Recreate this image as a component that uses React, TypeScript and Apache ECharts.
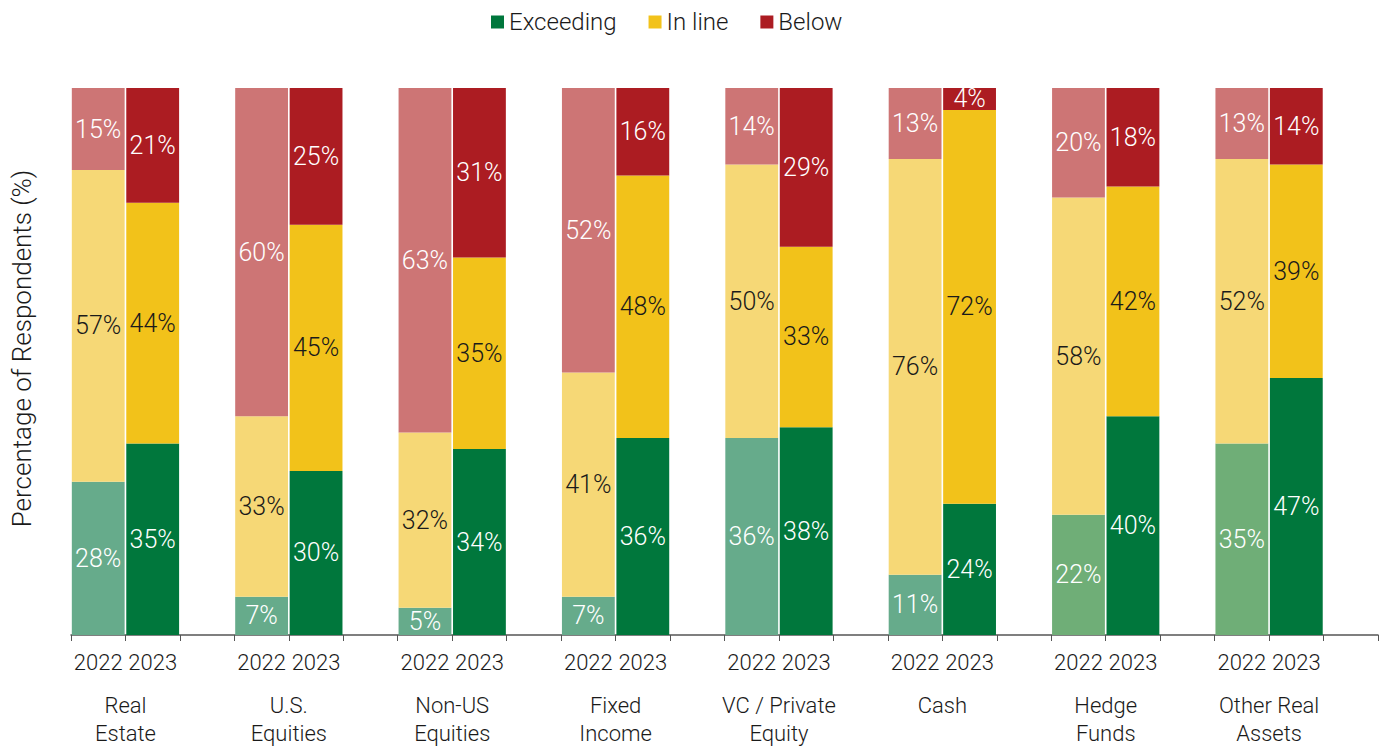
import React, { useEffect, useRef } from "react";
import * as echarts from "echarts";

const categories = [
  "Real\nEstate",
  "U.S.\nEquities",
  "Non-US\nEquities",
  "Fixed\nIncome",
  "VC / Private\nEquity",
  "Cash",
  "Hedge\nFunds",
  "Other Real\nAssets",
];
const years = ["2022", "2023"];

const exceeding2022 = [28, 7, 5, 7, 36, 11, 22, 35];
const inline2022 = [57, 33, 32, 41, 50, 76, 58, 52];
const below2022 = [15, 60, 63, 52, 14, 13, 20, 13];

const exceeding2023 = [35, 30, 34, 36, 38, 24, 40, 47];
const inline2023 = [44, 45, 35, 48, 33, 72, 42, 39];
const below2023 = [21, 25, 31, 16, 29, 4, 18, 14];

// light green shade per category for 2022 (styling only)
const light2022Green = [
  "#66ab8b", "#66ab8b", "#66ab8b", "#66ab8b", "#66ab8b", "#66ab8b", "#6fae77", "#6fae77",
];

const FONT = "Roboto";

export default function App() {
  const ref = useRef<HTMLDivElement>(null);

  useEffect(() => {
    if (!ref.current) return;
    const chart = echarts.init(ref.current, null, { renderer: "svg" });

    const slots: string[] = [];
    const nameSlots: string[] = [];
    categories.forEach((c) => {
      slots.push(years[0], years[1], "");
      nameSlots.push(c, "", "");
    });

    const spread = (vals: number[], offset: number, colors?: string[]) => {
      const out: any[] = [];
      vals.forEach((v, i) => {
        const a: any[] = ["-", "-", "-"];
        a[offset] = colors ? { value: v, itemStyle: { color: colors[i] } } : v;
        out.push(...a);
      });
      return out;
    };

    const mk = (name: string, data: any[], color: string, labelColor: string) => ({
      name,
      type: "bar",
      stack: "all",
      barCategoryGap: "3%",
      data,
      itemStyle: { color },
      label: {
        show: true,
        position: "inside",
        formatter: (p: any) => (p.value == null || p.value === "-" ? "" : p.value + "%"),
        color: labelColor,
        fontSize: 25,
        fontFamily: FONT,
        fontWeight: 300,
      },
    });

    chart.setOption({
      animation: false,
      legend: {
        top: 5,
        left: 486,
        data: ["Exceeding", "In line", "Below"],
        icon: "rect",
        itemWidth: 13,
        itemHeight: 13,
        itemGap: 32,
        textStyle: { fontSize: 24, fontFamily: FONT, fontWeight: 300, color: "#1a1a1a" },
      },
      grid: { left: 71, right: 2, top: 88, bottom: 104, containLabel: false },
      xAxis: [
        {
          type: "category",
          data: slots,
          position: "bottom",
          axisLine: { lineStyle: { color: "#555", width: 1.5 } },
          axisTick: { show: true, length: 6, lineStyle: { color: "#555" } },
          axisLabel: {
            interval: 0,
            margin: 16,
            fontSize: 22,
            fontFamily: FONT,
            fontWeight: 300,
            color: "#1a1a1a",
          },
        },
        {
          type: "category",
          data: nameSlots,
          position: "bottom",
          axisLine: { show: false },
          axisTick: { show: false },
          axisLabel: {
            interval: 0,
            margin: 56,
            fontSize: 22,
            lineHeight: 28,
            fontFamily: FONT,
            fontWeight: 300,
            color: "#1a1a1a",
            padding: [0, 0, 0, 54.5],
          },
        },
      ],
      yAxis: {
        type: "value",
        min: 0,
        max: 100,
        axisLine: { show: false },
        axisTick: { show: false },
        axisLabel: { show: false },
        splitLine: { show: false },
        name: "Percentage of Respondents (%)",
        nameLocation: "middle",
        nameGap: 36,
        nameTextStyle: { fontSize: 26, fontFamily: FONT, fontWeight: 300, color: "#1a1a1a", padding: [0, 0, 0, 26] },
      },
      series: [
        mk("Exceeding 2022", spread(exceeding2022, 0, light2022Green), "#66ab8b", "#ffffff"),
        mk("In line 2022", spread(inline2022, 0), "#f6d876", "#1a1a1a"),
        mk("Below 2022", spread(below2022, 0), "#cd7575", "#ffffff"),
        mk("Exceeding", spread(exceeding2023, 1), "#00773c", "#ffffff"),
        mk("In line", spread(inline2023, 1), "#f2c21a", "#1a1a1a"),
        mk("Below", spread(below2023, 1), "#ac1c22", "#ffffff"),
      ],
    });

    return () => chart.dispose();
  }, []);

  return <div ref={ref} style={{ width: 1381, height: 747, position: "absolute", left: 0, top: 0 }} />;
}
